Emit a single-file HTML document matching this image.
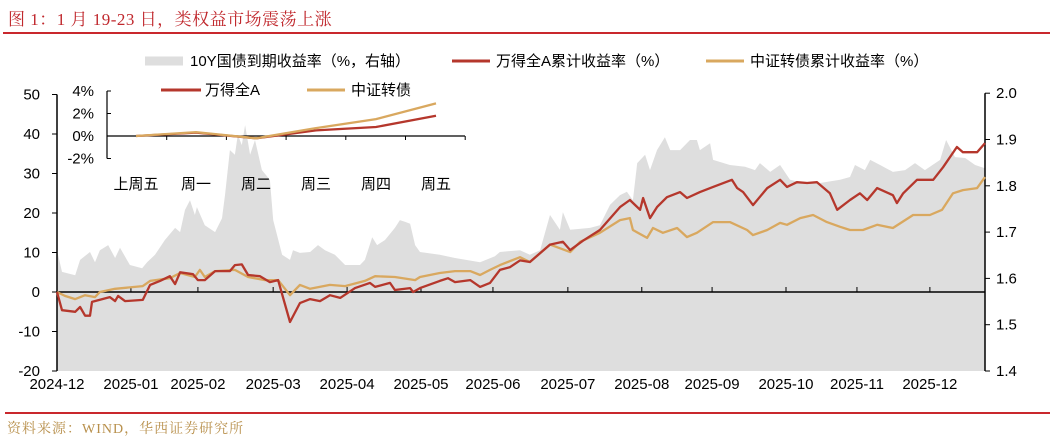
<!DOCTYPE html>
<html><head><meta charset="utf-8">
<style>
html,body{margin:0;padding:0;background:#fff;}
body{width:1053px;height:442px;overflow:hidden;position:relative;font-family:"Liberation Sans","Noto Sans CJK SC",sans-serif;}
#title{position:absolute;left:8px;top:5px;font-size:17px;color:#c0282d;font-family:"Liberation Serif","Noto Serif CJK SC",serif;letter-spacing:0.5px;}
#rule1{position:absolute;left:3px;top:32px;width:1047px;height:2px;background:#c9282d;}
#rule2{position:absolute;left:5px;top:412px;width:1045px;height:2px;background:#c9282d;}
#src{position:absolute;left:7px;top:418px;font-size:14px;color:#b8904c;font-family:"Liberation Serif","Noto Serif CJK SC",serif;letter-spacing:1px;}
svg{position:absolute;left:0;top:0;}
</style></head><body>
<div id="title">图 1：1 月 19-23 日，类权益市场震荡上涨</div>
<div id="rule1"></div>
<svg id="chart" width="1053" height="442"></svg>
<div id="rule2"></div>
<div id="src">资料来源：WIND，华西证券研究所</div>
<script>
// ---- data (t = trading-day index from 2024-12 start) ----
const monthLabels=["2024-12","2025-01","2025-02","2025-03","2025-04","2025-05","2025-06","2025-07","2025-08","2025-09","2025-10","2025-11","2025-12"];
const monthStarts=[0,22.4,42.7,65.5,87.9,110.3,132.1,154.8,177.2,198.5,220.9,242.4,264.5];
const leftTicks=[-20,-10,0,10,20,30,40,50];
const rightTicks=[1.4,1.5,1.6,1.7,1.8,1.9,2.0];
const windT=[0,1.5,5.5,7,8.5,10,10.6,16,17.6,18.5,
20.6,26,28.2,31.2,34.2,35.8,37.3,41.2,42.7,44.8,
47.9,52.4,53.9,56,57.9,61.5,64.5,67,70.6,73.6,
76.7,79.7,82.7,85.8,90.3,94.8,96.4,100.9,102.4,107,
107.9,110,116,118.5,120.6,125.2,128.2,131.2,134.2,137.3,
140.3,143.3,149.4,153.3,155.5,159.4,164.5,170.6,173.6,176.7,
177.6,179.7,181.8,184.8,188.8,190.9,194.8,198.8,204.5,206.1,
207.9,210.9,215.2,219.1,221.2,224.2,227.3,230.3,234.2,236.4,
240.3,243.3,245.5,248.5,253.3,254.5,256.4,260.6,265.5,268.5,
272.7,274.5,278.8,281.2];
const windV=[0,-4.6,-5,-3.8,-6,-6,-2.5,-1.3,-2.3,-1,
-2.3,-2,1.8,2.8,4,2,5,4.5,3,3,
5.3,5.3,6.8,7,4.3,4,2.5,3,-7.6,-2.8,
-1.8,-2.3,-0.8,-1.5,1,2.3,1.3,2.3,0.5,1,
0,1,2.8,3.5,2.5,3,1.3,2.3,5.6,6.3,
8,7.6,12,12.7,10.6,13,15.7,21.5,23.3,20.8,
23.8,18.7,21.5,24,25.3,23.8,25.3,26.6,28.4,26.3,
25.3,22,26.3,28.4,26.6,27.8,27.6,27.8,25,20.8,
23.3,25,23.3,26.3,24.5,22.5,25,28.4,28.4,31.6,
36.7,35.4,35.4,37.7];
const cbT=[0,2.4,5.5,8.5,11.5,13,17.6,26,28.2,34.2,
37.3,41.8,43.3,44.8,47.9,53.9,57.9,63,67,70.6,
73.6,76.7,82.7,87.3,93.3,96.4,102.4,108.5,110,116,
120.6,125.2,128.2,131.2,134.2,140.3,143.3,149.4,155.5,158.5,
164.5,170.6,173.6,174.5,178.8,180.6,183.6,187.9,190.9,193.9,
198.8,203.9,209.1,210.9,215.2,219.1,221.2,225.2,229.1,233.3,
237.3,240.3,244.2,248.5,253.3,259.4,264.5,268.2,271.5,274.5,
278.8,281.2];
const cbV=[0,-1,-1.8,-0.8,-1.3,0,0.8,1.5,2.8,3.5,
4.8,3.8,5.6,3.8,5.3,5.6,3.8,3,3,-0.8,
1.8,0.8,1.8,1.5,2.8,4,3.8,3,3.8,4.8,
5.3,5.3,4.3,5.6,6.8,8.8,7.6,12,10.1,12.7,
15,18.2,18.7,15.7,13.7,16.2,15,16.2,13.9,15,
17.7,17.7,15.7,14.4,15.7,17.5,17,18.7,19.5,17.7,
16.5,15.7,15.7,17,16.2,19.5,19.5,20.8,25,25.8,
26.3,29.1];
const yldT=[0,1.5,5.5,7,10,11.5,13,15.5,17.6,19.1,
22.1,25.8,27.3,29.7,32.7,35.8,37.3,38.8,40.3,41.8,
42.4,44.8,47.9,50,50.9,52.4,53.9,54.8,56,57,
58.5,60,62.1,64.5,65.5,68.2,70.6,71.5,73.6,76.7,
79.1,81.2,84.2,87.3,91.8,93.3,95.5,97,99.4,102.4,
103.9,105.5,107,108.5,110,116,120.6,128.2,132.7,134.2,
140.3,143.3,146.4,149.4,152.4,153.3,155.5,161.5,164.5,167.6,
170.6,172.7,174.5,175.8,178.2,179.7,181.8,184.2,185.8,188.8,
191.8,193.9,194.8,197.9,198.8,203.9,208.5,211.5,213,216.1,
219.1,222.1,225.2,231.2,237.3,240.3,241.8,244.8,246.4,249.4,
253.3,257,260,263,267.6,269.4,272.1,275.2,278.2,281.2];
const yldV=[1.661,1.614,1.607,1.640,1.657,1.635,1.661,1.672,1.644,1.666,
1.629,1.622,1.635,1.651,1.683,1.709,1.700,1.748,1.769,1.737,
1.754,1.715,1.700,1.730,1.780,1.877,1.867,1.910,1.888,1.931,
1.867,1.899,1.834,1.813,1.726,1.651,1.640,1.661,1.655,1.657,
1.672,1.661,1.651,1.629,1.629,1.640,1.689,1.672,1.683,1.709,
1.726,1.722,1.718,1.672,1.657,1.651,1.644,1.635,1.648,1.657,
1.661,1.651,1.661,1.737,1.705,1.743,1.705,1.709,1.715,1.759,
1.780,1.787,1.769,1.849,1.867,1.834,1.877,1.905,1.877,1.877,
1.899,1.899,1.877,1.892,1.856,1.845,1.841,1.834,1.849,1.830,
1.845,1.813,1.808,1.806,1.813,1.819,1.845,1.834,1.856,1.845,
1.830,1.834,1.849,1.834,1.856,1.899,1.862,1.860,1.845,1.838];
// inset
const insetCats=["上周五","周一","周二","周三","周四","周五"];
const insetWind=[0,0.3,-0.2,0.5,0.8,1.8];
const insetCb=[0,0.35,-0.2,0.7,1.5,2.9];
const insetTicks=[-2,0,2,4];

const NS="http://www.w3.org/2000/svg";
const svg=document.getElementById('chart');
function mk(tag,attrs,parent){const e=document.createElementNS(NS,tag);for(const k in attrs)e.setAttribute(k,attrs[k]);(parent||svg).appendChild(e);return e;}
// scales
const X0=57,X1=985,T1=281.2;
const xS=t=>X0+(t/T1)*(X1-X0);
const yL=v=>292-v*3.95;
const yR=v=>371-(v-1.4)*463;
const BOT=371;

// area
let d="M"+xS(yldT[0])+","+BOT;
for(let i=0;i<yldT.length;i++) d+=" L"+xS(yldT[i]).toFixed(1)+","+yR(yldV[i]).toFixed(1);
d+=" L"+xS(yldT[yldT.length-1])+","+BOT+" Z";
const area=mk('path',{d:d,fill:'#dedede'});



// zero axis
const zl=mk('line',{x1:X0,x2:X1,y1:yL(0),y2:yL(0),stroke:'#000','stroke-width':1.5});


monthStarts.forEach((t,i)=>{
  if(i>0){const tk=mk('line',{x1:xS(t),x2:xS(t),y1:yL(0),y2:yL(0)-5,stroke:'#000','stroke-width':1});
  
  }
  const lb=mk('text',{x:xS(t),y:389,'text-anchor':'middle','font-size':15,fill:'#000'});
  lb.textContent=monthLabels[i];
  
  
});

// left axis
const la=mk('line',{x1:X0,x2:X0,y1:yL(50),y2:yL(-20),stroke:'#000','stroke-width':1.5});


leftTicks.forEach(v=>{
  mk('line',{x1:X0-5,x2:X0,y1:yL(v),y2:yL(v),stroke:'#000'});
  const t=mk('text',{x:40,y:yL(v)+5,'text-anchor':'end','font-size':15});
  t.textContent=v;
  
  
});
// right axis
const ra=mk('line',{x1:X1,x2:X1,y1:yR(2.0),y2:yR(1.4),stroke:'#000','stroke-width':1.5});


rightTicks.forEach(v=>{
  mk('line',{x1:X1,x2:X1+5,y1:yR(v),y2:yR(v),stroke:'#000'});
  const t=mk('text',{x:996,y:yR(v)+5,'font-size':15});
  t.textContent=v.toFixed(1);
  
  
});

function line(ts,vs,col,w,name){
  let p="";for(let i=0;i<ts.length;i++)p+=(i?" L":"M")+xS(ts[i]).toFixed(1)+","+yL(vs[i]).toFixed(1);
  const e=mk('path',{d:p,fill:'none',stroke:col,'stroke-width':w,'stroke-linejoin':'round'});
  
  
}
line(cbT,cbV,'#d9a85f',2.3,'cb-index-line');
line(windT,windV,'#b5372c',2.3,'wind-a-line');

// legend
function leg(x,y,w,col,h,txt,tx,name){
  const r=mk('rect',{x:x,y:y-h/2,width:w,height:h,fill:col});
  
  
  const t=mk('text',{x:tx,y:y+5,'font-size':15});
  t.textContent=txt;
  
  
}
leg(145,61,38,'#dedede',9,'10Y国债到期收益率（%，右轴）',190,'legend-yield');
leg(452,61,38,'#b5372c',3,'万得全A累计收益率（%）',496,'legend-wind');
leg(706,61,38,'#d9a85f',3,'中证转债累计收益率（%）',750,'legend-cb');
leg(161,90,40,'#b5372c',3,'万得全A',205,'inset-legend-wind');
leg(307,90,38,'#d9a85f',3,'中证转债',351,'inset-legend-cb');

// inset
const IX0=107,IX1=465;
const iy=v=>136-v*11.25;
const ix=i=>136+i*60;
const iya=mk('line',{x1:IX0,x2:IX0,y1:iy(4),y2:iy(-2),stroke:'#000','stroke-width':1.2});


insetTicks.forEach(v=>{
  mk('line',{x1:IX0,x2:IX0+4,y1:iy(v),y2:iy(v),stroke:'#000'});
  const t=mk('text',{x:IX0-13,y:iy(v)+5,'text-anchor':'end','font-size':15});
  t.textContent=v+'%';
  
  
});
const ixa=mk('line',{x1:IX0,x2:IX1,y1:iy(0),y2:iy(0),stroke:'#000','stroke-width':1.2});


for(let i=1;i<=insetCats.length;i++) mk('line',{x1:IX0+i*59.7,x2:IX0+i*59.7,y1:iy(0),y2:iy(0)+4,stroke:'#000'});
insetCats.forEach((c,i)=>{
  const t=mk('text',{x:ix(i),y:189,'text-anchor':'middle','font-size':15});
  t.textContent=c;
  
  
});
function iline(vs,col,name){
  let p="";vs.forEach((v,i)=>p+=(i?" L":"M")+ix(i)+","+iy(v).toFixed(1));
  const e=mk('path',{d:p,fill:'none',stroke:col,'stroke-width':2.3});
  
  
}
iline(insetWind,'#b5372c','inset-wind-a-line');
iline(insetCb,'#d9a85f','inset-cb-line');
</script>
</body></html>
